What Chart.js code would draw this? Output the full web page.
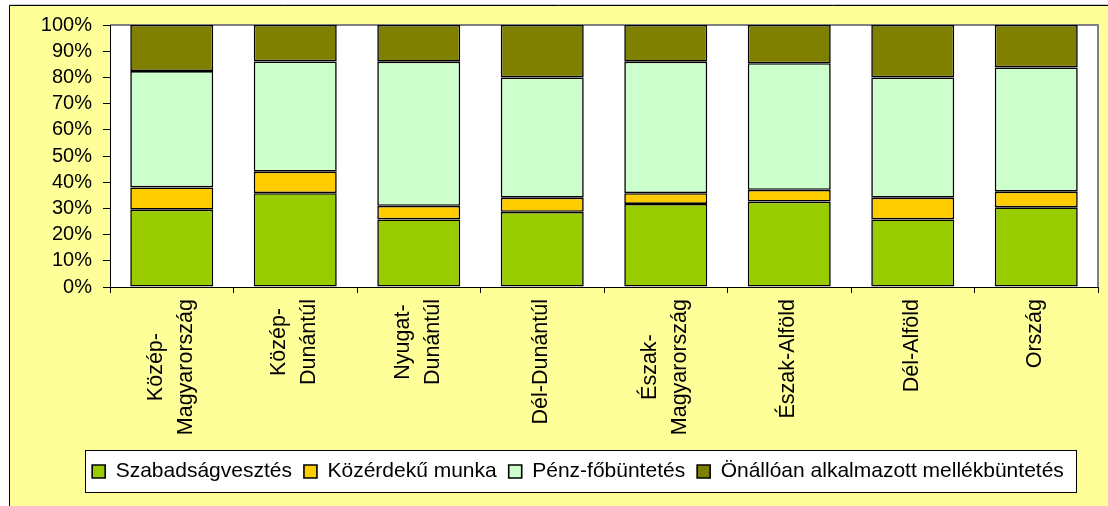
<!DOCTYPE html>
<html><head><meta charset="utf-8">
<script src="https://cdn.jsdelivr.net/npm/chart.js@4/dist/chart.umd.min.js"></script>
<style>html,body{margin:0;padding:0;background:#fff;overflow:hidden}#wrap{width:1108px;height:506px;position:relative}</style>
</head><body><div id="wrap"><canvas id="c"></canvas></div>
<script>
const categories = [["Közép-","Magyarország"],["Közép-","Dunántúl"],["Nyugat-","Dunántúl"],["Dél-Dunántúl"],["Észak-","Magyarország"],["Észak-Alföld"],["Dél-Alföld"],["Ország"]];
const seriesNames = ["Szabadságvesztés","Közérdekű munka","Pénz-főbüntetés","Önállóan alkalmazott mellékbüntetés"];
const szabadsagvesztes = [29.5, 35.8, 25.8, 28.7, 31.7, 32.6, 25.8, 30.4];
const kozerdekuMunka   = [8.5, 8.2, 5.2, 5.4, 4.1, 4.5, 8.3, 6.0];
const penzFobuntetes   = [44.4, 42.1, 55.0, 45.9, 50.2, 48.3, 45.9, 47.4];
const onalloMellek     = [17.6, 13.9, 14.0, 20.0, 14.0, 14.6, 20.0, 16.2];
const yTickValues = [0,10,20,30,40,50,60,70,80,90,100];
const seriesColors = ["#99CC00","#FFCC00","#CCFFCC","#808000"];

const FONT = "'Liberation Sans', Arial, sans-serif";
const BOTTOM_PAD = 14;
const PAD_LEFT = 30;
const LEGEND_CENTER = 578;

const framePlugin = {
  id: 'frame',
  afterLayout(chart) {
    const lg = chart.legend;
    if (lg) {
      const d = LEGEND_CENTER - (lg.left + lg.right) / 2;
      lg.left += d; lg.right += d;
    }
  },
  beforeDraw(chart) {
    const ctx = chart.ctx, a = chart.chartArea;
    ctx.save();
    ctx.fillStyle = '#fff';
    ctx.fillRect(0, 0, chart.width, chart.height);
    ctx.fillStyle = '#FFFF99';
    ctx.fillRect(9, 5, chart.width - 9, chart.height - 5);
    ctx.strokeStyle = '#000';
    ctx.lineWidth = 1;
    ctx.beginPath();
    ctx.moveTo(9.5, chart.height); ctx.lineTo(9.5, 5.5); ctx.lineTo(chart.width, 5.5);
    ctx.stroke();
    ctx.strokeStyle = '#c8c8c8';
    ctx.beginPath(); ctx.moveTo(9, 4.5); ctx.lineTo(chart.width, 4.5); ctx.stroke();
    // plot area
    ctx.fillStyle = '#fff';
    ctx.fillRect(a.left, a.top, a.right - a.left, a.bottom - a.top);
    ctx.strokeStyle = '#808080';
    ctx.lineWidth = 2;
    ctx.beginPath();
    ctx.moveTo(a.left, a.top); ctx.lineTo(a.right, a.top); ctx.lineTo(a.right, a.bottom);
    ctx.stroke();
    // legend box
    const lg = chart.legend;
    if (lg && lg.legendHitBoxes && lg.legendHitBoxes.length) {
      const hb = lg.legendHitBoxes;
      let l = Infinity, r = -Infinity, t = Infinity, b = -Infinity;
      hb.forEach(h => { l = Math.min(l, h.left); r = Math.max(r, h.left + h.width); t = Math.min(t, h.top); b = Math.max(b, h.top + h.height); });
      ctx.fillStyle = '#fff';
      ctx.strokeStyle = '#000';
      ctx.lineWidth = 1;
      const bx = Math.round(l - 7) + 0.5, by = Math.round(t - 11) + 0.5;
      const bw = Math.round(r + 12 - l + 7), bh = Math.round(b - t + 21);
      ctx.fillRect(bx, by, bw, bh);
      ctx.strokeRect(bx, by, bw, bh);
    }
    ctx.restore();
  },
  afterDraw(chart) {
    const ctx = chart.ctx, xs = chart.scales.x;
    ctx.save();
    ctx.font = "21.5px " + FONT;
    ctx.fillStyle = '#000';
    ctx.textAlign = 'center';
    ctx.textBaseline = 'alphabetic';
    const lineH = 30, topY = 299;
    categories.forEach((lab, i) => {
      const lines = Array.isArray(lab) ? lab : [lab];
      const xc = xs.getPixelForValue(i);
      const maxW = Math.max(...lines.map(s => ctx.measureText(s).width));
      ctx.save();
      ctx.translate(xc, topY + maxW / 2);
      ctx.rotate(-Math.PI / 2);
      lines.forEach((s, k) => {
        ctx.fillText(s, 0, 5 + (k - (lines.length - 1) / 2) * lineH);
      });
      ctx.restore();
    });
    ctx.restore();
  }
};

const seriesData = [szabadsagvesztes, kozerdekuMunka, penzFobuntetes, onalloMellek];

new Chart(document.getElementById('c'), {
  type: 'bar',
  data: {
    labels: categories.map(l => Array.isArray(l) ? l.join(' ') : l),
    datasets: seriesData.map((d, i) => ({
      label: seriesNames[i],
      data: d,
      backgroundColor: seriesColors[i],
      borderColor: '#000',
      borderWidth: 1.6,
      borderSkipped: false,
      barPercentage: 0.672,
      categoryPercentage: 1
    }))
  },
  options: {
    responsive: true,
    maintainAspectRatio: false,
    animation: false,
    devicePixelRatio: 1,
    layout: { padding: { left: PAD_LEFT, right: 10, top: 25, bottom: BOTTOM_PAD } },
    plugins: {
      tooltip: { enabled: false },
      legend: {
        position: 'bottom',
        labels: {
          boxWidth: 13, boxHeight: 13, padding: 12,
          color: '#000',
          font: { family: FONT, size: 21 }
        }
      }
    },
    scales: {
      x: {
        stacked: true,
        offset: true,
        grid: { display: true, drawOnChartArea: false, drawTicks: true, tickLength: 6, color: '#000', offset: true },
        border: { display: true, color: '#000', width: 1 },
        ticks: { display: false },
        afterFit(scale) {
          const lg = scale.chart.legend;
          scale.height = 506 - 287 - BOTTOM_PAD - (lg ? lg.height : 0);
        }
      },
      y: {
        stacked: true,
        min: 0, max: 100,
        afterBuildTicks(scale) { scale.ticks = yTickValues.map(v => ({ value: v })); },
        grid: { display: true, drawOnChartArea: false, drawTicks: true, tickLength: 7, color: '#000' },
        border: { display: true, color: '#000', width: 1 },
        ticks: {
          color: '#000', padding: 11, autoSkip: false,
          font: { family: FONT, size: 20 },
          callback: v => v + '%'
        },
        afterFit(scale) { scale.width = 110 - PAD_LEFT; }
      }
    }
  },
  plugins: [framePlugin]
});
</script></body></html>
